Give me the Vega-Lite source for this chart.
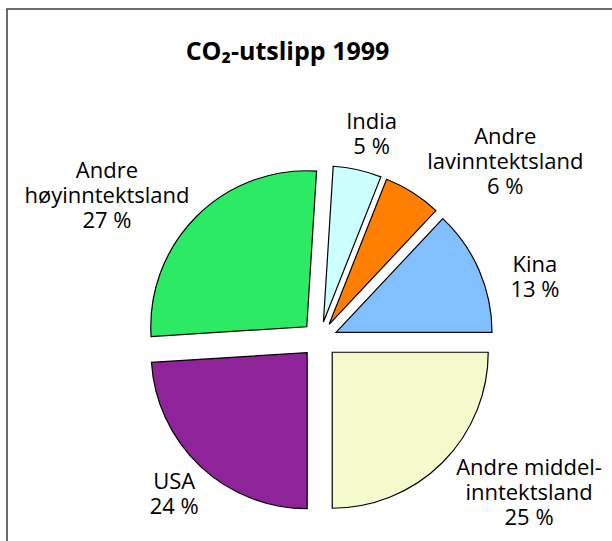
{
  "$schema": "https://vega.github.io/schema/vega-lite/v6.json",
  "width": 609,
  "height": 536,
  "autosize": {"type": "none"},
  "padding": {"left": 7, "top": 9, "right": -4, "bottom": -4},
  "background": "white",
  "view": {"stroke": "#3c3c3c", "strokeWidth": 1.5},
  "config": {"view": {"stroke": "#3c3c3c", "strokeWidth": 1.5}},
  "title": {
    "text": "CO₂-utslipp 1999",
    "font": "Open Sans",
    "fontSize": 25,
    "fontWeight": "bold",
    "color": "black",
    "anchor": "middle",
    "dx": -24,
    "offset": -76,
    "baseline": "alphabetic"
  },
  "data": {
    "values": [
      {"region": "Andre middelinntektsland", "pct": 25, "ord": 1, "label": "Andre middel-\ninntektsland\n25 %"},
      {"region": "USA", "pct": 24, "ord": 2, "label": "USA\n24 %"},
      {"region": "Andre høyinntektsland", "pct": 27, "ord": 3, "label": "Andre\nhøyinntektsland\n27 %"},
      {"region": "India", "pct": 5, "ord": 4, "label": "India\n5 %"},
      {"region": "Andre lavinntektsland", "pct": 6, "ord": 5, "label": "Andre\nlavinntektsland\n6 %"},
      {"region": "Kina", "pct": 13, "ord": 6, "label": "Kina\n13 %"}
    ]
  },
  "encoding": {
    "theta": {"field": "pct", "type": "quantitative", "stack": true, "scale": {"range": [1.5707963, 7.8539816]}},
    "order": {"field": "ord", "type": "quantitative"}
  },
  "layer": [
    {
      "mark": {
        "type": "arc",
        "outerRadius": 156,
        "stroke": "black",
        "strokeWidth": 1.2,
        "xOffset": {"expr": "8 + 18*sin((scale('theta', datum.pct_start) + scale('theta', datum.pct_end))/2)"},
        "yOffset": {"expr": "62.5 - 18*cos((scale('theta', datum.pct_start) + scale('theta', datum.pct_end))/2)"}
      },
      "encoding": {
        "color": {
          "field": "region",
          "type": "nominal",
          "scale": {
            "domain": ["Andre middelinntektsland", "USA", "Andre høyinntektsland", "India", "Andre lavinntektsland", "Kina"],
            "range": ["#F5FACD", "#8F2399", "#2DEA65", "#CCFFFF", "#FF8000", "#82BFFF"]
          },
          "legend": null
        }
      }
    },
    {
      "mark": {
        "type": "text",
        "radius": 232,
        "font": "Open Sans",
        "fontSize": 22,
        "lineHeight": 25,
        "lineBreak": "\n",
        "align": "center",
        "baseline": "middle",
        "color": "black",
        "xOffset": 6.5,
        "yOffset": 61,
        "dx": {"expr": "[47, 15, -47, 3, 63, 4][datum.ord - 1]"},
        "dy": {"expr": "[-34, -25, -3, 10, -5, 19][datum.ord - 1]"}
      },
      "encoding": {
        "detail": {"field": "region", "type": "nominal"},
        "text": {"field": "label", "type": "nominal"}
      }
    }
  ]
}
